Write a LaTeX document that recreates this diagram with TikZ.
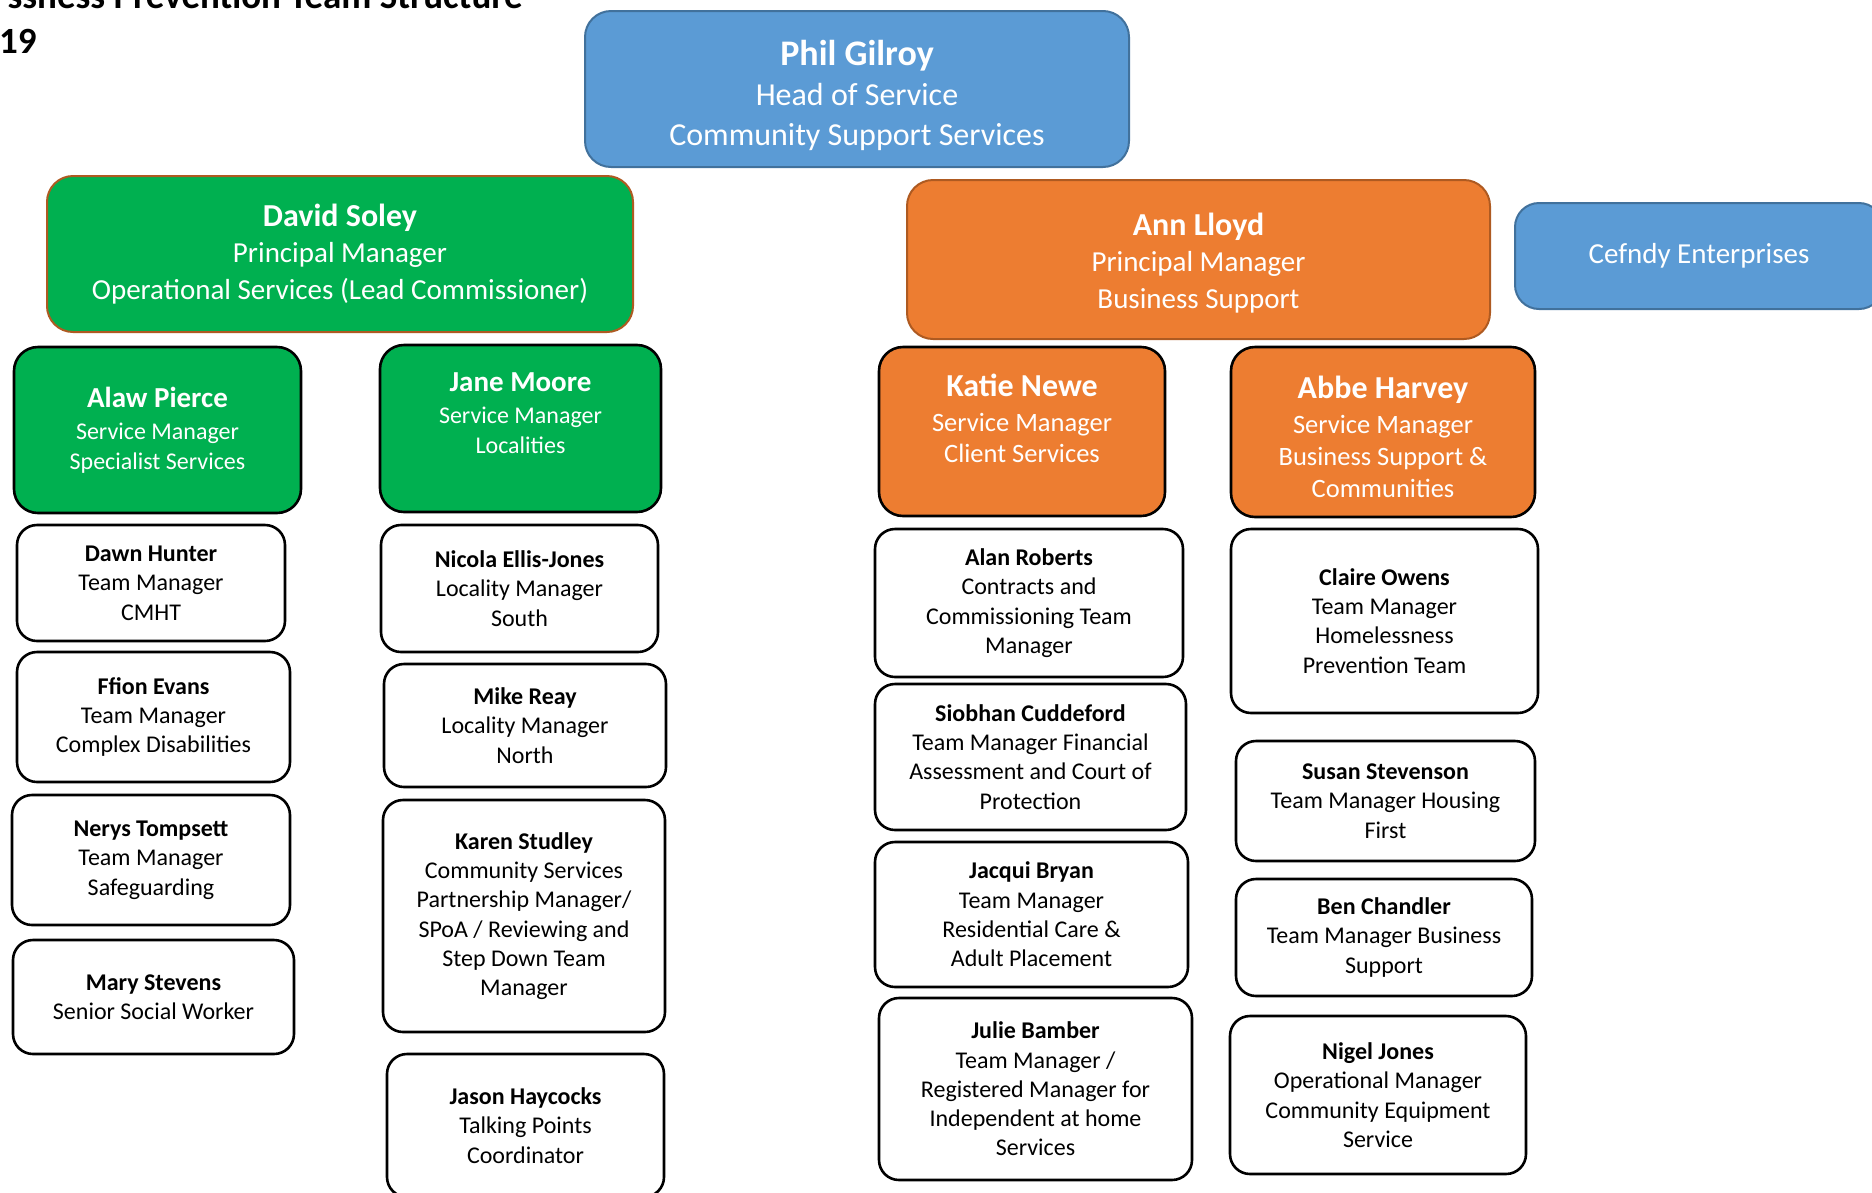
\documentclass[tikz,border=0pt]{standalone}
\usepackage{fontspec}
\setmainfont{Carlito}
\definecolor{headblue}{HTML}{5B9BD5}
\definecolor{headline}{HTML}{41719C}
\definecolor{opsgreen}{HTML}{00B050}
\definecolor{bizorange}{HTML}{ED7D31}
\definecolor{rustline}{HTML}{AE5A21}
\tikzset{
  basic/.style   = {draw, rectangle, align=center, inner sep=0pt},
  head/.style    = {basic, rounded corners=26pt, line width=2pt, draw=headline,
  fill=headblue, text=white, font=\fontsize{32}{40}\selectfont},
  pmgreen/.style = {basic, rounded corners=26pt, line width=2pt, draw=rustline,
  fill=opsgreen, text=white, font=\fontsize{29}{36.5}\selectfont},
  pmorange/.style = {basic, rounded corners=26pt, line width=2pt, draw=rustline,
  fill=bizorange, text=white, font=\fontsize{29}{36.5}\selectfont},
  enterprise/.style = {basic, rounded corners=24pt, line width=2pt, draw=headline,
  fill=headblue, text=white, font=\fontsize{29}{36}\selectfont},
  smgreen/.style = {basic, rounded corners=24pt, line width=2.6pt, fill=opsgreen,
  text=white, font=\fontsize{24}{30}\selectfont},
  smorange/.style = {basic, rounded corners=24pt, line width=2.6pt, fill=bizorange,
  text=white, font=\fontsize{26.5}{32}\selectfont},
  boxtext/.style = {align=center, inner sep=0pt, text=white},
  staff/.style   = {basic, rounded corners=20pt, line width=2.6pt, fill=white,
  font=\fontsize{24}{29.3}\selectfont},
  title/.style   = {inner sep=0pt, font=\bfseries\fontsize{37}{46}\selectfont}
}
\newcommand{\bigname}[2]{{\bfseries\fontsize{#1}{#1}\selectfont #2}}

\begin{document}
\begin{tikzpicture}[x=1pt,y=-1pt]
\useasboundingbox (0,0) rectangle (1872,1192);
\node[title, anchor=base east] (title) at (523,8) {ssness Prevention Team Structure};
\node[title, anchor=base west] (year) at (-1,53) {19};

% top level
\node[head, minimum width=544pt, minimum height=156pt] (phil) at (857,89) {};
\node[boxtext, font=\fontsize{32}{40}\selectfont] (philtext) at ([yshift=-6pt]phil.center)
  {\bigname{36}{Phil Gilroy}\\Head of Service\\Community Support Services};
\node[pmgreen, minimum width=586pt, minimum height=156pt] (david) at (340,254)
  {\bigname{32}{David Soley}\\Principal Manager\\Operational Services (Lead Commissioner)};
\node[pmorange, minimum width=583pt, minimum height=159pt] (ann) at (1198.5,259.5) {};
\node[boxtext, font=\fontsize{29}{36.5}\selectfont] (anntext) at ([yshift=-3.5pt]ann.center)
  {\bigname{32}{Ann Lloyd}\\Principal Manager\\Business Support};
\node[enterprise, minimum width=368pt, minimum height=106pt] (cefndy) at (1699,256)
  {Cefndy Enterprises};

% service managers
\node[smgreen, minimum width=287pt, minimum height=166pt] (alaw) at (157.5,430)
  {\bigname{29}{Alaw Pierce}\\[2pt]Service Manager\\Specialist Services};
\node[smgreen, minimum width=281pt, minimum height=167pt] (jane) at (520.5,428.5) {};
\node[boxtext, font=\fontsize{24}{30}\selectfont] (janetext) at ([yshift=15pt]jane.center)
  {\bigname{29}{Jane Moore}\\[2pt]Service Manager\\Localities};
\node[smorange, minimum width=286pt, minimum height=169pt] (katie) at (1022,431.5) {};
\node[boxtext, font=\fontsize{26.5}{31}\selectfont] (katietext) at ([yshift=13pt]katie.center)
  {\bigname{32}{Katie Newe}\\[4pt]Service Manager\\Client Services};
\node[smorange, minimum width=304pt, minimum height=170pt] (abbe) at (1383,432) {};
\node[boxtext, font=\fontsize{26.5}{32}\selectfont] (abbetext) at ([yshift=-4.5pt]abbe.center)
  {\bigname{32}{Abbe Harvey}\\[3pt]Service Manager\\Business Support \&\\Communities};

% specialist services
\node[staff, minimum width=268pt, minimum height=116pt] (dawn) at (151,583)
  {\textbf{Dawn Hunter}\\Team Manager\\CMHT};
\node[staff, minimum width=273pt, minimum height=130pt] (ffion) at (153.5,717)
  {\textbf{Ffion Evans}\\Team Manager\\Complex Disabilities};
\node[staff, minimum width=278pt, minimum height=130pt] (nerys) at (151,860)
  {\textbf{Nerys Tompsett}\\Team Manager\\Safeguarding};
\node[staff, minimum width=281pt, minimum height=114pt] (mary) at (153.5,997)
  {\textbf{Mary Stevens}\\Senior Social Worker};

% localities
\node[staff, minimum width=277pt, minimum height=127pt] (nicola) at (519.5,588.5)
  {\textbf{Nicola Ellis-Jones}\\Locality Manager\\South};
\node[staff, minimum width=282pt, minimum height=123pt] (mike) at (525,725.5)
  {\textbf{Mike Reay}\\Locality Manager\\North};
\node[staff, minimum width=282pt, minimum height=232pt] (karen) at (524,916)
  {\textbf{Karen Studley}\\Community Services\\Partnership Manager/\\SPoA / Reviewing and\\Step Down Team\\Manager};
\node[staff, minimum width=277pt, minimum height=143pt] (jason) at (525.5,1125.5)
  {\textbf{Jason Haycocks}\\Talking Points\\Coordinator};

% client services
\node[staff, minimum width=308pt, minimum height=148pt] (alan) at (1029,603)
  {\textbf{Alan Roberts}\\Contracts and\\Commissioning Team\\Manager};
\node[staff, minimum width=311pt, minimum height=146pt] (siobhan) at (1030.5,757)
  {\textbf{Siobhan Cuddeford}\\Team Manager Financial\\Assessment and Court of\\Protection};
\node[staff, minimum width=313pt, minimum height=145pt] (jacqui) at (1031.5,914.5)
  {\textbf{Jacqui Bryan}\\Team Manager\\Residential Care \&\\Adult Placement};
\node[staff, minimum width=313pt, minimum height=182pt] (julie) at (1035.5,1089)
  {\textbf{Julie Bamber}\\Team Manager /\\Registered Manager for\\Independent at home\\Services};

% business support and communities
\node[staff, minimum width=307pt, minimum height=184pt] (claire) at (1384.5,621)
  {\textbf{Claire Owens}\\Team Manager\\Homelessness\\Prevention Team};
\node[staff, minimum width=299pt, minimum height=120pt] (susan) at (1385.5,801)
  {\textbf{Susan Stevenson}\\Team Manager Housing\\First};
\node[staff, minimum width=296pt, minimum height=117pt] (ben) at (1384,937.5)
  {\textbf{Ben Chandler}\\Team Manager Business\\Support};
\node[staff, minimum width=296pt, minimum height=158pt] (nigel) at (1378,1095)
  {\textbf{Nigel Jones}\\Operational Manager\\Community Equipment\\Service};
\end{tikzpicture}
\end{document}
